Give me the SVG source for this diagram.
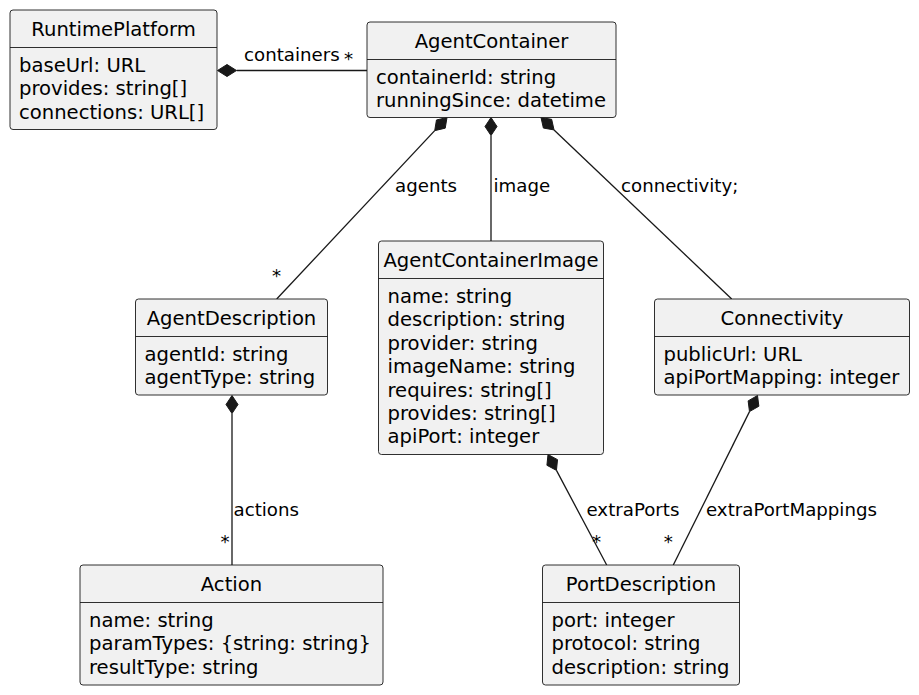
<svg xmlns="http://www.w3.org/2000/svg" width="919" height="695" viewBox="0 0 919 695">
<style>
.box{fill:#F1F1F1;stroke:#181818;stroke-width:0.9}
.sep{stroke:#181818;stroke-width:0.9}
.t{font-family:"DejaVu Sans",sans-serif;font-size:19.6px;fill:#000}
.ttl{text-anchor:middle}
.lbl{font-family:"DejaVu Sans",sans-serif;font-size:18.2px;fill:#000}
.ln{stroke:#181818;stroke-width:1.3;fill:none}
.dia{fill:#181818;stroke:#181818;stroke-width:1}
</style>
<rect width="919" height="695" fill="#FFFFFF"/>
<g id="connectors">
  <polygon class="dia" points="217.5,70.5 227,64.5 236.5,70.5 227,76.5"/>
  <line class="ln" x1="236.5" y1="70.5" x2="367" y2="70.5"/>
  <text class="lbl" x="244" y="61">containers</text>
  <text class="lbl" x="344" y="65">*</text>

  <polygon class="dia" points="447,117.5 445.23,128.17 434.71,130.64 436.47,119.97"/>
  <line class="ln" x1="434.71" y1="130.64" x2="276.7" y2="299"/>
  <text class="lbl" x="395" y="192">agents</text>
  <text class="lbl" x="272" y="282">*</text>

  <polygon class="dia" points="491,117.5 497,126.5 491,135.5 485,126.5"/>
  <line class="ln" x1="491" y1="135.5" x2="491" y2="241"/>
  <text class="lbl" x="493.5" y="192">image</text>

  <polygon class="dia" points="541,117.5 543.38,128.05 554.04,129.91 551.66,119.35"/>
  <line class="ln" x1="554.04" y1="129.91" x2="731.7" y2="299"/>
  <text class="lbl" x="621" y="192">connectivity;</text>

  <polygon class="dia" points="232,395.5 238,404.5 232,413.5 226,404.5"/>
  <line class="ln" x1="232" y1="413.5" x2="232" y2="565"/>
  <text class="lbl" x="233.5" y="516">actions</text>
  <text class="lbl" x="220.5" y="548">*</text>

  <polygon class="dia" points="548,454.5 546.92,465.27 556.45,470.4 557.52,459.63"/>
  <line class="ln" x1="556.45" y1="470.4" x2="606.7" y2="565"/>
  <text class="lbl" x="586.5" y="515.5">extraPorts</text>
  <text class="lbl" x="592" y="548">*</text>

  <polygon class="dia" points="757.5,395.5 758.87,406.23 749.49,411.62 748.13,400.89"/>
  <line class="ln" x1="749.49" y1="411.62" x2="673.3" y2="565"/>
  <text class="lbl" x="706" y="515.5">extraPortMappings</text>
  <text class="lbl" x="663.7" y="548">*</text>
</g>

<g id="RuntimePlatform">
  <rect class="box" x="10" y="10" width="207" height="119.5" rx="3"/>
  <line class="sep" x1="10" y1="47.5" x2="217" y2="47.5"/>
  <text class="t ttl" x="113.5" y="36">RuntimePlatform</text>
  <text class="t" x="19" y="72">baseUrl: URL</text>
  <text class="t" x="19" y="95.4">provides: string[]</text>
  <text class="t" x="19" y="118.8">connections: URL[]</text>
</g>

<g id="AgentContainer">
  <rect class="box" x="367" y="22" width="249" height="95.5" rx="3"/>
  <line class="sep" x1="367" y1="59.5" x2="616" y2="59.5"/>
  <text class="t ttl" x="491.5" y="48">AgentContainer</text>
  <text class="t" x="376" y="84">containerId: string</text>
  <text class="t" x="376" y="107.4">runningSince: datetime</text>
</g>

<g id="AgentContainerImage">
  <rect class="box" x="378.5" y="241" width="225" height="213.5" rx="3"/>
  <line class="sep" x1="378.5" y1="278.5" x2="603.5" y2="278.5"/>
  <text class="t ttl" x="491" y="267">AgentContainerImage</text>
  <text class="t" x="387.5" y="303">name: string</text>
  <text class="t" x="387.5" y="326.4">description: string</text>
  <text class="t" x="387.5" y="349.8">provider: string</text>
  <text class="t" x="387.5" y="373.2">imageName: string</text>
  <text class="t" x="387.5" y="396.6">requires: string[]</text>
  <text class="t" x="387.5" y="420">provides: string[]</text>
  <text class="t" x="387.5" y="443.4">apiPort: integer</text>
</g>

<g id="AgentDescription">
  <rect class="box" x="135.5" y="299" width="192" height="96" rx="3"/>
  <line class="sep" x1="135.5" y1="336.5" x2="327.5" y2="336.5"/>
  <text class="t ttl" x="231.5" y="325">AgentDescription</text>
  <text class="t" x="144.5" y="361">agentId: string</text>
  <text class="t" x="144.5" y="384.4">agentType: string</text>
</g>

<g id="Connectivity">
  <rect class="box" x="654.5" y="299" width="255" height="96" rx="3"/>
  <line class="sep" x1="654.5" y1="336.5" x2="909.5" y2="336.5"/>
  <text class="t ttl" x="782" y="325">Connectivity</text>
  <text class="t" x="663.5" y="361">publicUrl: URL</text>
  <text class="t" x="663.5" y="384.4">apiPortMapping: integer</text>
</g>

<g id="Action">
  <rect class="box" x="80" y="565" width="303" height="120" rx="3"/>
  <line class="sep" x1="80" y1="602.5" x2="383" y2="602.5"/>
  <text class="t ttl" x="231.5" y="591">Action</text>
  <text class="t" x="89" y="627">name: string</text>
  <text class="t" x="89" y="650.4">paramTypes: {string: string}</text>
  <text class="t" x="89" y="673.8">resultType: string</text>
</g>

<g id="PortDescription">
  <rect class="box" x="542.5" y="565" width="197" height="120" rx="3"/>
  <line class="sep" x1="542.5" y1="602.5" x2="739.5" y2="602.5"/>
  <text class="t ttl" x="641" y="591">PortDescription</text>
  <text class="t" x="551.5" y="627">port: integer</text>
  <text class="t" x="551.5" y="650.4">protocol: string</text>
  <text class="t" x="551.5" y="673.8">description: string</text>
</g>
</svg>
